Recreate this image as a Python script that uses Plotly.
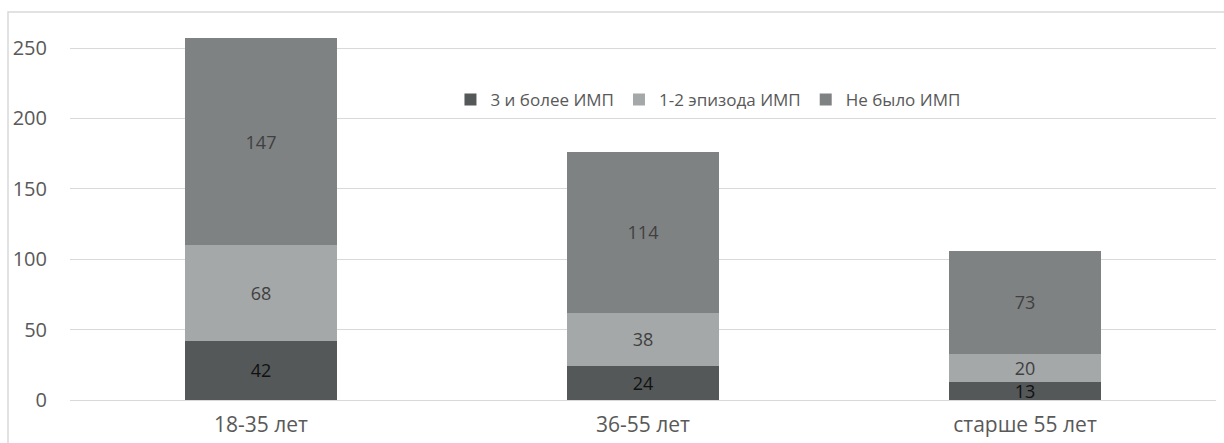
import plotly.graph_objects as go

categories = ["18-35 лет", "36-55 лет", "старше 55 лет"]
series_names = ["3 и более ИМП", "1-2 эпизода ИМП", "Не было ИМП"]
s_many = [42, 24, 13]
s_few = [68, 38, 20]
s_none = [147, 114, 73]
y_ticks = [0, 50, 100, 150, 200, 250]

colors = ["#545859", "#A5A8A9", "#7F8283"]
label_colors = ["#111111", "#404040", "#404040"]
FONT = "Open Sans"

fig = go.Figure()
for name, vals, c, lc in zip(series_names, [s_many, s_few, s_none], colors, label_colors):
    fig.add_trace(go.Bar(
        x=categories, y=vals, name=name,
        marker=dict(color=c, line=dict(width=0)),
        text=[str(v) for v in vals], textposition="inside",
        insidetextanchor="middle", textangle=0, constraintext="none",
        textfont=dict(family=FONT, size=18, color=lc),
        cliponaxis=False,
    ))

fig.update_layout(
    barmode="stack",
    bargap=0.604,
    width=1224, height=443,
    margin=dict(l=70, r=8, t=34, b=43),
    paper_bgcolor="white", plot_bgcolor="white",
    font=dict(family=FONT, size=18, color="#595959"),
    legend=dict(
        orientation="h", x=0.332, y=0.82, xanchor="left", yanchor="middle",
        font=dict(family=FONT, size=17, color="#595959"),
        bgcolor="rgba(0,0,0,0)", traceorder="normal",
        itemwidth=30,
    ),
    xaxis=dict(showgrid=False, showline=False, ticks="", ticklabelstandoff=10,
               automargin=False,
               tickfont=dict(family=FONT, size=21, color="#595959")),
    yaxis=dict(range=[0, 260], tickvals=y_ticks, showgrid=True,
               gridcolor="#D9D9D9", gridwidth=1, zeroline=True,
               zerolinecolor="#D9D9D9", zerolinewidth=1, showline=False,
               ticks="", ticklabelstandoff=22, automargin=False,
               tickfont=dict(family=FONT, size=20, color="#595959")),
    shapes=[dict(type="rect", xref="paper", yref="paper",
                 x0=-0.0541, x1=1.2, y0=-0.3, y1=1.06,
                 line=dict(color="#D9D9D9", width=1.5), layer="below")],
)

fig.write_html("out.html")
